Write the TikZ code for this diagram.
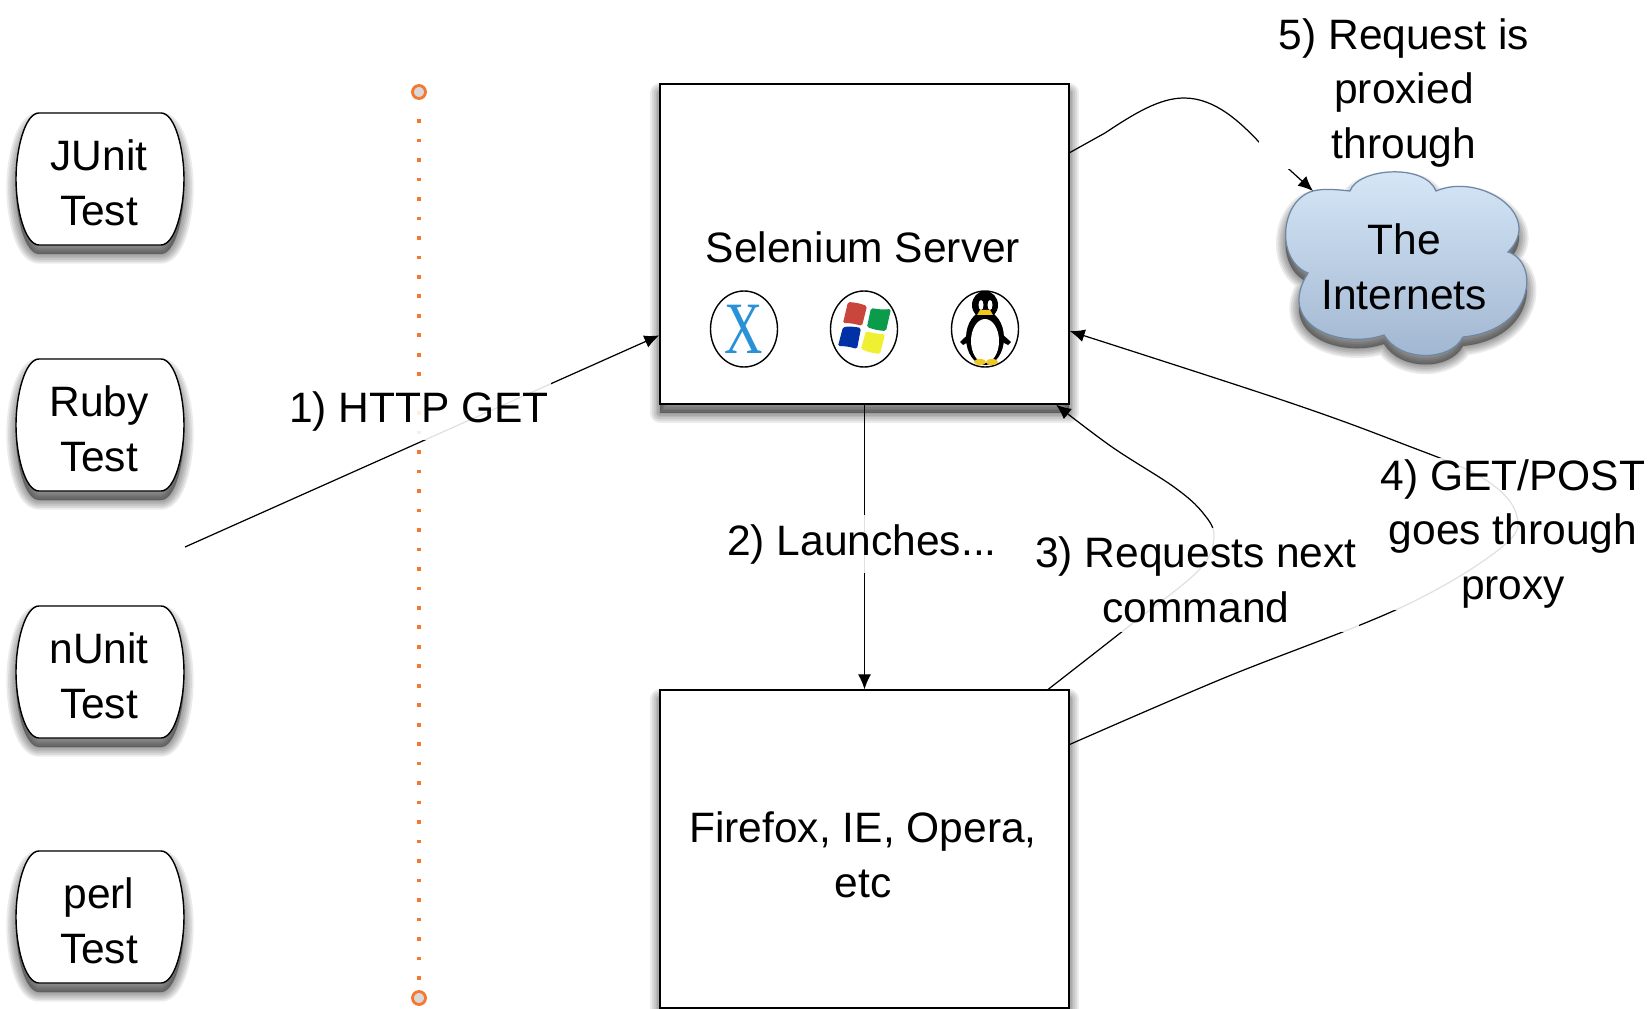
\documentclass[tikz,border=0pt]{standalone}
\usepackage{fontspec}
\setmainfont{Liberation Sans}
\newfontfamily\xfont{Liberation Serif}
\usetikzlibrary{shapes.geometric, arrows.meta}
\definecolor{dotorange}{RGB}{244, 120, 48}
\definecolor{xblue}{RGB}{40, 145, 215}
\definecolor{winred}{RGB}{200, 70, 60}
\definecolor{wingreen}{RGB}{10, 155, 75}
\definecolor{winblue}{RGB}{0, 50, 165}
\definecolor{winyellow}{RGB}{240, 240, 50}
\definecolor{tuxyellow}{RGB}{240, 200, 30}
\definecolor{cloudtop}{RGB}{215, 232, 248}
\definecolor{cloudbot}{RGB}{160, 181, 208}
\definecolor{cloudedge}{RGB}{110, 135, 165}
\newcommand{\softshadow}[1]{%
  \foreach \w in {11,9,7,5,3,1} {
    \path[draw=black, fill=black, draw opacity=.08, fill opacity=.08, line join=round, line width=\w pt, shift={(0,9)}] #1;
  }}
\newcommand{\testpath}{(-61,-66) -- (61,-66) .. controls (75,-66) and (84,-30) .. (84,0)
  .. controls (84,30) and (75,66) .. (61,66) -- (-61,66)
  .. controls (-75,66) and (-84,30) .. (-84,0) .. controls (-84,-30) and (-75,-66) .. (-61,-66) -- cycle}
\newcommand{\cloudpath}{(1313,191) .. controls (1325,188) and (1340,190) .. (1350,191)
  .. controls (1358,168) and (1425,163) .. (1436,191)
  .. controls (1480,172) and (1545,215) .. (1508,252)
  .. controls (1540,262) and (1535,330) .. (1463,337)
  .. controls (1450,362) and (1400,362) .. (1384,335)
  .. controls (1340,350) and (1275,325) .. (1308,273)
  .. controls (1275,260) and (1280,200) .. (1313,191) -- cycle}
\newcommand{\testbox}[3]{%
  \begin{scope}[shift={(100,#2)}]
    \softshadow{\testpath}
    \draw[fill=white, line width=.8pt] \testpath;
  \end{scope}
  \node[caption] (#1) at (99,#2+4) {#3\\Test};}

\begin{document}
\begin{tikzpicture}[
  x=0.2mm, y=-0.2mm,
  caption/.style={align=center, font=\fontsize{24.2}{31.2}\selectfont, inner sep=1pt},
  tag/.style={caption, inner ysep=5pt, fill=white, fill opacity=.88, text opacity=1},
  plainbox/.style={draw, fill=white, line width=.8pt, minimum width=8.18cm},
  link/.style={line width=.7pt, -{Latex[length=8.5pt,width=7.4pt]}},
  osring/.style={draw, ellipse, line width=.8pt, minimum width=13.4mm, minimum height=15.2mm, inner sep=0pt},
  pinhead/.style={draw=dotorange, circle, fill=black!15, line width=1.6pt, minimum size=2.6mm, inner sep=0pt}
]
  \useasboundingbox (0,0) rectangle (1650,1009);

  % test clients on the left
  \testbox{junit}{179}{JUnit}
  \testbox{ruby}{425}{Ruby}
  \testbox{nunit}{672}{nUnit}
  \testbox{perl}{917}{perl}

  % boundary
  \node[pinhead] (pintop) at (419,92) {};
  \node[pinhead] (pinbot) at (419,998) {};
  \draw[dotorange, line width=2pt, dash pattern=on 2.1pt off 8.98pt, shorten <=11pt, shorten >=5pt] (pintop) -- (pinbot);

  % server and browser
  \softshadow{(660,84) rectangle (1069,404)}
  \softshadow{(660,690) rectangle (1069,1008)}
  \node[plainbox, minimum height=6.4cm] (server) at (864.5,244) {};
  \node[plainbox, minimum height=6.36cm] (browser) at (864.5,849) {};
  \node[caption] (servername) at (863,247) {Selenium Server};
  \node[caption] (browsername) at (863,855) {Firefox, IE, Opera,\\etc};

  % os icons
  \node[osring] (macos) at (744,329) {};
  \node[text=xblue, font=\xfont\fontsize{42}{42}\selectfont, xscale=.72, transform shape, inner sep=0pt] (macx) at (744,329) {X};
  \node[osring] (windows) at (864,329) {};
  \fill[winred, rounded corners=1pt] (843,323) -- (848,302) to[bend left=8] (867,306) -- (862,326) to[bend right=8] cycle;
  \fill[wingreen, rounded corners=1pt] (867,327) -- (871,308) to[bend right=8] (891,309) -- (886,331) to[bend left=8] cycle;
  \fill[winblue, rounded corners=1pt] (838,346) -- (843,327) to[bend left=8] (861,328) -- (857,349) to[bend right=8] cycle;
  \fill[winyellow, rounded corners=1pt] (861,349) -- (866,331) to[bend right=8] (885,334) -- (880,354) to[bend left=8] cycle;
  \node[osring] (linux) at (985,329) {};
  \fill (985,305) ellipse [x radius=13, y radius=14];
  \fill (985,338) ellipse [x radius=19, y radius=27];
  \fill (979,324) -- (960,342) -- (963,345) -- (979,336) -- cycle;
  \fill (991,324) -- (1011,342) -- (1008,345) -- (991,336) -- cycle;
  \fill[white] (985,341) ellipse [x radius=14, y radius=22];
  \fill[white] (981,305) ellipse [x radius=2.5, y radius=5];
  \fill[white] (990,305) ellipse [x radius=2.5, y radius=5];
  \fill[tuxyellow] (977,315) -- (993,315) -- (990,310) -- (980,310) -- cycle;
  \fill[tuxyellow] (980,362) ellipse [x radius=6, y radius=3];
  \fill[tuxyellow] (992,362) ellipse [x radius=6, y radius=3];

  % the internets
  \softshadow{\cloudpath}
  \draw[cloudedge, top color=cloudtop, bottom color=cloudbot, line width=.7pt] \cloudpath;
  \node[caption] (internets) at (1404,267) {The\\Internets};

  % connectors
  \coordinate (getstart) at (185,547);
  \coordinate (cloudtip) at (1313,191);
  \draw[link] (getstart) -- (server.204);
  \draw[link] (server.south) -- (browser.north);
  \draw[link] plot[smooth, tension=.6] coordinates {(browser.41) (1133,623) (1199,570) (1214,537) (1203,513) (1174,487) (1112,447) (server.320)};
  \draw[link] plot[smooth, tension=.6] coordinates {(browser.27) (1224,678) (1402,607) (1502,547) (1516,513) (1481,477) (1398,442) (1282,400) (server.337)};
  \draw[link] (server.24) -- (1105,133) .. controls (1135,113) and (1160,98) .. (1184,98)
    .. controls (1215,98) and (1240,122) .. (1259,142) -- (cloudtip);

  % step labels
  \node[tag] (stepone) at (419,411) {1) HTTP GET};
  \node[tag] (steptwo) at (862,544) {2) Launches...};
  \node[tag] (stepthree) at (1196,580) {3) Requests next\\command};
  \node[tag, inner ysep=1pt] (stepfour) at (1513,534) {4) GET/POST\\goes through\\proxy};
  \node[tag, fill opacity=1, inner xsep=11pt, inner ysep=1pt] (stepfive) at (1404,93) {5) Request is\\proxied\\through};
\end{tikzpicture}
\end{document}
